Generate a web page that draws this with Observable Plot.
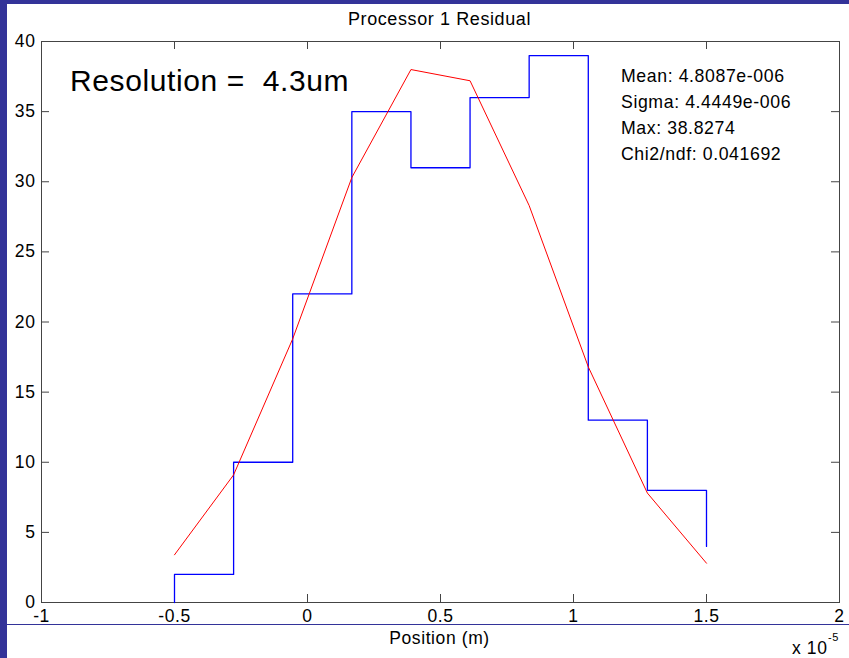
<!DOCTYPE html>
<html><head><meta charset="utf-8">
<script src="https://cdn.jsdelivr.net/npm/d3@7"></script>
<script src="https://cdn.jsdelivr.net/npm/@observablehq/plot@0.6"></script>
<style>
body{margin:0;background:#fff;}
#wrap{position:relative;width:849px;height:658px;overflow:hidden;background:#fff;}
#wrap svg{position:absolute;left:0;top:0;}
.band{position:absolute;background:#333399;}
svg text{letter-spacing:0.6px;}
</style></head><body><div id="wrap"></div>
<script>
// Histogram bin edges (x in units of 1e-5 m)
const binEdges = [-0.5, -0.2778, -0.0556, 0.1667, 0.3889, 0.6111, 0.8333, 1.0556, 1.2778, 1.5];
// Counts per bin
const binCounts = [2, 10, 22, 35, 31, 36, 39, 13, 8];
const startCount = 0;
const endCount = 4;
// Fitted gaussian values at bin edges
const fitValues = [3.4, 9.1, 18.8, 30.3, 38.0, 37.2, 28.3, 16.8, 7.8, 2.8];

const xTicks = [-1, -0.5, 0, 0.5, 1, 1.5, 2];
const yTicks = [0, 5, 10, 15, 20, 25, 30, 35, 40];

const titleText = "Processor 1 Residual";
const xLabelText = "Position (m)";
const scaleText = "x 10";
const scaleExp = "-5";
const resolutionText = "Resolution =\u00a0 4.3um";
const statsLines = ["Mean: 4.8087e-006", "Sigma: 4.4449e-006", "Max: 38.8274", "Chi2/ndf: 0.041692"];

const stepData = [{x: binEdges[0], y: startCount}].concat(
  binEdges.map((e, i) => ({x: e, y: i < binCounts.length ? binCounts[i] : endCount}))
);
const fitData = binEdges.map((e, i) => ({x: e, y: fitValues[i]}));

const W = 849, H = 658, ML = 41, MR = 10, MT = 41, MB = 56;
const innerW = W - ML - MR, innerH = H - MT - MB;
const tickLen = 8;
const axisColor = "#444";
const fontFamily = "'Liberation Sans', Arial, Helvetica, sans-serif";

const chart = Plot.plot({
  width: W, height: H,
  marginLeft: ML, marginRight: MR, marginTop: MT, marginBottom: MB,
  style: {background: "transparent", fontFamily, fontSize: "17.5px", color: "#000"},
  x: {domain: [-1, 2]},
  y: {domain: [0, 40]},
  marks: [
    // inward ticks on all four sides
    Plot.tickX(xTicks, {x: d => d, insetTop: innerH - tickLen, stroke: axisColor}),
    Plot.tickX(xTicks, {x: d => d, insetBottom: innerH - tickLen, stroke: axisColor}),
    Plot.tickY(yTicks, {y: d => d, insetRight: innerW - tickLen, stroke: axisColor}),
    Plot.tickY(yTicks, {y: d => d, insetLeft: innerW - tickLen, stroke: axisColor}),
    Plot.frame({stroke: axisColor}),
    // tick labels
    Plot.axisX(xTicks, {anchor: "bottom", tickSize: 0, tickPadding: 7, tickFormat: d => String(d), label: null, fontSize: 17.5, fill: "#000"}),
    Plot.axisY(yTicks, {anchor: "left", tickSize: 0, tickPadding: 6, tickFormat: d => String(d), label: null, fontSize: 17.5, fill: "#000"}),
    // data
    Plot.line(stepData, {x: "x", y: "y", curve: "step-after", stroke: "#0000ff", strokeWidth: 1.3}),
    Plot.line(fitData, {x: "x", y: "y", stroke: "#ff0000", strokeWidth: 1}),
    // texts
    Plot.text([titleText], {frameAnchor: "top", dy: -29, dx: -1, lineAnchor: "top", fontSize: 18, fill: "#000"}),
    Plot.text([xLabelText], {frameAnchor: "bottom", dy: 29, dx: -1, lineAnchor: "top", fontSize: 17.5, fill: "#000"}),
    Plot.text([scaleText], {frameAnchor: "bottom-right", textAnchor: "end", dx: -12, dy: 39, lineAnchor: "top", fontSize: 17.5, fill: "#000"}),
    Plot.text([scaleExp], {frameAnchor: "bottom-right", textAnchor: "start", dx: -11.5, dy: 31, lineAnchor: "top", fontSize: 11, fill: "#000"}),
    Plot.text([resolutionText], {frameAnchor: "top-left", textAnchor: "start", dx: 28.5, dy: 28.5, lineAnchor: "top", fontSize: 30, fill: "#000"}),
    Plot.text([statsLines.join("\n")], {frameAnchor: "top-right", textAnchor: "start", dx: -218.5, dy: 22.4, lineAnchor: "top", lineHeight: 26 / 17.7, fontSize: 17.7, fill: "#000"})
  ]
});

const wrap = document.getElementById("wrap");
wrap.appendChild(chart);
function band(l, t, w, h) {
  const d = document.createElement("div");
  d.className = "band";
  Object.assign(d.style, {left: l + "px", top: t + "px", width: w + "px", height: h + "px"});
  wrap.appendChild(d);
}
band(0, 0, 849, 4);
band(0, 0, 7, 658);
band(7, 624, 842, 1.3);
</script>
</body></html>
